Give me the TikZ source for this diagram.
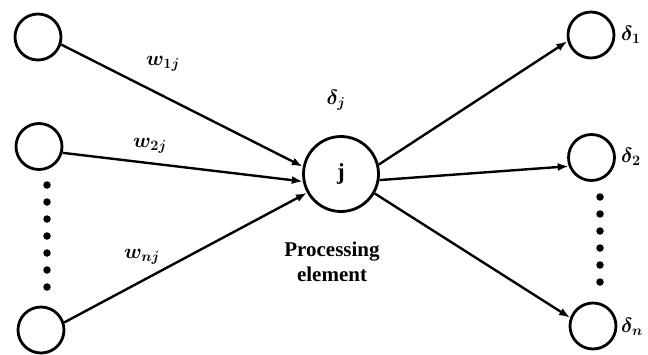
\documentclass[tikz,border=0pt]{standalone}
\usepackage{amsmath}
\usepackage{fontspec}
\setmainfont{Liberation Serif}
\usetikzlibrary{arrows.meta,positioning}

\begin{document}
\begin{tikzpicture}[x=1pt, y=-1pt,
  unit/.style={draw, circle, line width=2.8pt, minimum size=46pt, inner sep=0pt},
  pelem/.style={draw, circle, line width=2.8pt, minimum size=75pt, inner sep=0pt, font=\fontsize{23}{24}\selectfont\bfseries},
  link/.style={line width=2.4pt, -{Latex[length=11pt,width=8pt]}},
  dotcol/.style={fill, circle, inner sep=0pt, minimum size=7.5pt},
  lbl/.style={font=\fontsize{21}{24}\selectfont\boldmath, inner sep=0pt},
  dlbl/.style={font=\fontsize{22}{26}\selectfont\boldmath, inner sep=0pt}]
\useasboundingbox (0,0) rectangle (648,354);
% input layer
\node[unit] (in1) at (38,37) {};
\node[unit] (in2) at (39,146.5) {};
\node[unit] (in3) at (41,330) {};
\foreach \k in {0,...,6}
  \node[dotcol] (ldot\k) at (47,185+17*\k) {};
% processing element
\node[pelem] (pe) at (341,174) {j};
\node[dlbl] (dj) at (336,100) {$\delta_j$};
\node[align=center, inner sep=0pt, font=\fontsize{21}{25}\selectfont\bfseries] (petext) at (332,262) {Processing\\element};
% output layer
\node[unit] (out1) at (591,35) {};
\node[unit] (out2) at (591.5,157.5) {};
\node[unit] (out3) at (593,326) {};
\foreach \k in {0,...,5}
  \node[dotcol] (rdot\k) at (600,197+17*\k) {};
\node[dlbl, anchor=west] (d1) at (621,35) {$\delta_1$};
\node[dlbl, anchor=west] (d2) at (621,157) {$\delta_2$};
\node[dlbl, anchor=west] (dn) at (621,327) {$\delta_n$};
% weights
\draw[link] (in1.-18) -- (pe.169);
\draw[link] (in2.-15) -- (pe.191);
\draw[link] (in3.18) -- (pe.209);
\node[lbl] (w1) at (163,64) {$w_{1j}$};
\node[lbl] (w2) at (150,146) {$w_{2j}$};
\node[lbl] (wn) at (142,257) {$w_{nj}$};
% outputs
\draw[link] (pe.14) -- (out1.195);
\draw[link] (pe.-9) -- (out2.201);
\draw[link] (pe.-30) -- (out3.160);
\end{tikzpicture}
\end{document}
